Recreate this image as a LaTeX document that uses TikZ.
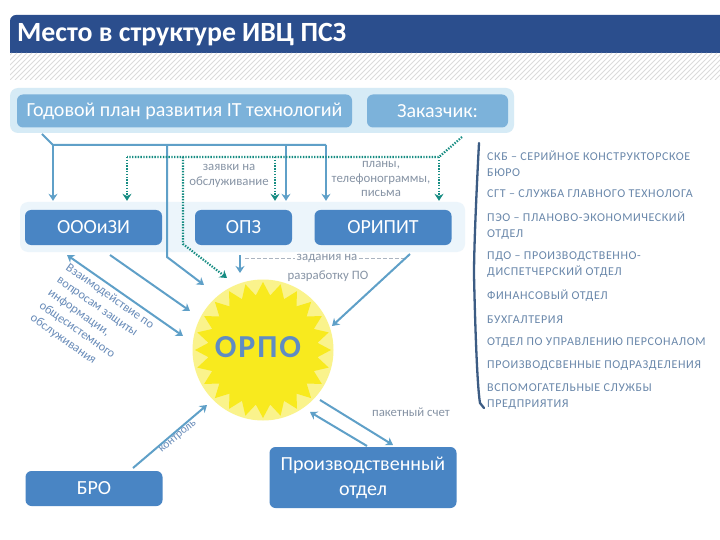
\documentclass[tikz,border=0pt]{standalone}
\usepackage{fontspec}
\setmainfont{Carlito}
\usetikzlibrary{arrows.meta,calc}
\definecolor{titleblue}{RGB}{43,78,141}
\definecolor{bandblue}{RGB}{214,235,246}
\definecolor{bandpale}{RGB}{236,245,251}
\definecolor{topfill}{RGB}{124,178,218}
\definecolor{deptblue}{RGB}{73,133,196}
\definecolor{connblue}{RGB}{95,160,200}
\definecolor{dotteal}{RGB}{22,140,130}
\definecolor{labelgray}{RGB}{135,148,165}
\definecolor{listblue}{RGB}{105,135,170}
\definecolor{rottext}{RGB}{105,140,185}
\definecolor{sunpale}{RGB}{250,243,140}
\definecolor{sunyellow}{RGB}{248,234,30}
\definecolor{orpoblue}{RGB}{95,140,195}
\definecolor{bracecol}{RGB}{60,92,132}
\tikzset{
  topbox/.style={fill=topfill, rounded corners=6pt, text=white, font=\fontsize{20}{24}\selectfont, inner sep=0pt, minimum height=33pt},
  dept/.style={fill=deptblue, rounded corners=6pt, text=white, font=\fontsize{20}{24}\selectfont, inner sep=0pt, minimum height=35pt, align=center},
  conn/.style={draw=connblue, line width=2pt},
  carrow/.style={conn, -{Stealth[length=7pt,width=9pt]}},
  dotline/.style={draw=dotteal, line width=2.2pt, dash pattern=on 1.4pt off 1.4pt},
  darrow/.style={dotline, -{Stealth[length=7pt,width=9pt]}},
  lbl/.style={text=labelgray, font=\fontsize{12.8}{14.5}\selectfont, align=center, inner sep=1pt},
  listtxt/.style={text=listblue, font=\fontsize{12}{16}\selectfont\addfontfeature{LetterSpace=5}, align=left, anchor=west, inner sep=0pt}
}
\begin{document}
\begin{tikzpicture}[x=1pt,y=-1pt]
\useasboundingbox (0,0) rectangle (720,540);
\fill[white] (0,0) rectangle (720,540);
% title bar
\fill[titleblue] (10,53) [rounded corners=6pt] -- (10,15) [sharp corners] -- (720,15) -- (720,53) -- cycle;
\begin{scope}
\clip (10,53) rectangle (720,80);
\foreach \i in {-30,-25,...,720} \draw[gray!28, line width=0.9pt] (\i,80) -- (\i+27,53);
\end{scope}
\node[anchor=west, text=white, font=\bfseries\fontsize{27.8}{32}\selectfont, inner sep=0pt] (title) at (17,35) {Место в структуре ИВЦ ПСЗ};
% top band
\fill[bandblue, rounded corners=8pt] (10,88) rectangle (514,133);
\node[topbox, minimum width=335pt] (plan) at (184.5,111) {Годовой план развития IT технологий};
\node[topbox, minimum width=141pt] (cust) at (437.5,111) {Заказчик:};
% second band
\fill[bandpale, rounded corners=8pt] (20,202) rectangle (465,252);
\node[dept, minimum width=137pt] (oooizi) at (93.5,227.5) {ОООиЗИ};
\node[dept, minimum width=97pt] (opz) at (243.5,227.5) {ОПЗ};
\node[dept, minimum width=137pt] (oripit) at (383,227.5) {ОРИПИТ};
\node[dept, minimum width=137pt] (bro) at (94,488.5) {БРО};
\node[dept, minimum width=187pt, minimum height=61pt, font=\fontsize{20}{25}\selectfont] (prod) at (363,477.5) {Производственный\\отдел};
% sun
\node[circle, fill=sunpale, minimum size=141pt, inner sep=0pt] (orpo) at (263,350) {};
\fill[sunyellow] ($(orpo.center)+(0:68)$) \foreach \k in {0,...,23} { -- ($(orpo.center)+({\k*15+7.5}:55)$) -- ($(orpo.center)+({\k*15+15}:68)$) } -- cycle;
\node[text=orpoblue, font=\bfseries\fontsize{32}{36}\selectfont\addfontfeature{LetterSpace=6}, inner sep=0pt] (orpotext) at (258,347) {ОРПО};
% coordinates
\coordinate (p0) at (42,134);
\coordinate (hl) at (53,145);
\coordinate (h2) at (167,145);
\coordinate (h2b) at (167,257);
\coordinate (h3) at (286,145);
\coordinate (hr) at (326,145);
\coordinate (e1) at (204,285);
\coordinate (d0) at (462,137);
\coordinate (dr) at (439,157);
\coordinate (dl) at (127,157);
\coordinate (d2) at (183,157);
\coordinate (d2b) at (183,244);
\coordinate (d3) at (275,157);
\coordinate (e2) at (227,278);
\coordinate (a1s) at (67,255);
\coordinate (a1e) at (183,336);
\coordinate (a2s) at (110,255);
\coordinate (a2e) at (190,311);
\coordinate (opzs) at (240,255);
\coordinate (opze) at (240,273);
\coordinate (ors) at (410,254);
\coordinate (ore) at (332,326);
\coordinate (bros) at (133,468);
\coordinate (broe) at (207,405);
\coordinate (pe) at (393,445);
\coordinate (ps) at (320,400);
\coordinate (qs) at (367,446);
\coordinate (qe) at (310,412);
% solid connectors
\draw[conn] (p0) -- (hl) -- (hr);
\draw[carrow, shorten >=9pt] (hl) -- (hl |- oooizi.north);
\draw[carrow] (h2) -- (h2b) -- (e1);
\draw[carrow, shorten >=9pt] (h3) -- (h3 |- opz.north);
\draw[carrow, shorten >=9pt] (hr) -- (hr |- oripit.north);
% dotted connectors
\draw[dotline] (d0) -- (dr) -- (dl);
\draw[darrow, shorten >=9pt] (dl) -- (dl |- oooizi.north);
\draw[darrow, shorten >=9pt] (d3) -- (d3 |- opz.north);
\draw[darrow, shorten >=9pt] (dr) -- (dr |- oripit.north);
\draw[darrow] (d2) -- (d2b) -- (e2);
% labels top
\node[lbl] (zayavki) at (229,176) {заявки на\\обслуживание};
\node[lbl] (plany) at (381,179) {планы,\\телефонограммы,\\письма};
% tasks
\draw[labelgray!70, line width=1pt, dash pattern=on 4pt off 2pt] (245,258) -- (405,258);
\node[lbl, fill=white, inner sep=2pt] (zad1) at (327,258) {задания на};
\node[lbl] (zad2) at (328,276) {разработку ПО};
\draw[carrow] (opzs) -- (opze);
\draw[carrow] (ors) -- (ore);
% interaction arrows
\draw[conn, {Stealth[length=7pt,width=9pt]}-{Stealth[length=7pt,width=9pt]}] (a1s) -- (a1e);
\draw[carrow] (a2s) -- (a2e);
\node[rotate=-35, anchor=north west, inner sep=0pt, align=left, text=rottext, font=\fontsize{12.5}{15.5}\selectfont] (vz) at (70,262) {Взаимодействие по\\вопросам защиты\\информации,\\общесистемного\\обслуживания};
% bottom
\draw[carrow] (bros) -- (broe);
\node[rotate=40, inner sep=0pt, text=rottext, font=\fontsize{11.5}{14}\selectfont] (kontr) at (178,437) {контроль};
\draw[carrow] (ps) -- (pe);
\draw[carrow] (qs) -- (qe);
\node[lbl] (paket) at (411,412) {пакетный счет};
% brace
\draw[bracecol, line width=2.3pt, line cap=round] (479,143) .. controls (476,200) and (474,250) .. (474,275) .. controls (475,320) and (477,385) .. (480,403) -- (484,408);
% list
\node[listtxt] (l1) at (487,164) {СКБ – СЕРИЙНОЕ КОНСТРУКТОРСКОЕ\\БЮРО};
\node[listtxt] (l2) at (487,194) {СГТ – СЛУЖБА ГЛАВНОГО ТЕХНОЛОГА};
\node[listtxt] (l3) at (487,226) {ПЭО – ПЛАНОВО-ЭКОНОМИЧЕСКИЙ\\ОТДЕЛ};
\node[listtxt] (l4) at (487,265) {ПДО – ПРОИЗВОДСТВЕННО-\\ДИСПЕТЧЕРСКИЙ ОТДЕЛ};
\node[listtxt] (l5) at (487,296) {ФИНАНСОВЫЙ ОТДЕЛ};
\node[listtxt] (l6) at (487,320) {БУХГАЛТЕРИЯ};
\node[listtxt] (l7) at (487,343) {ОТДЕЛ ПО УПРАВЛЕНИЮ ПЕРСОНАЛОМ};
\node[listtxt] (l8) at (487,366) {ПРОИЗВОДСВЕННЫЕ ПОДРАЗДЕЛЕНИЯ};
\node[listtxt] (l9) at (487,397) {ВСПОМОГАТЕЛЬНЫЕ СЛУЖБЫ\\ПРЕДПРИЯТИЯ};
\end{tikzpicture}
\end{document}
